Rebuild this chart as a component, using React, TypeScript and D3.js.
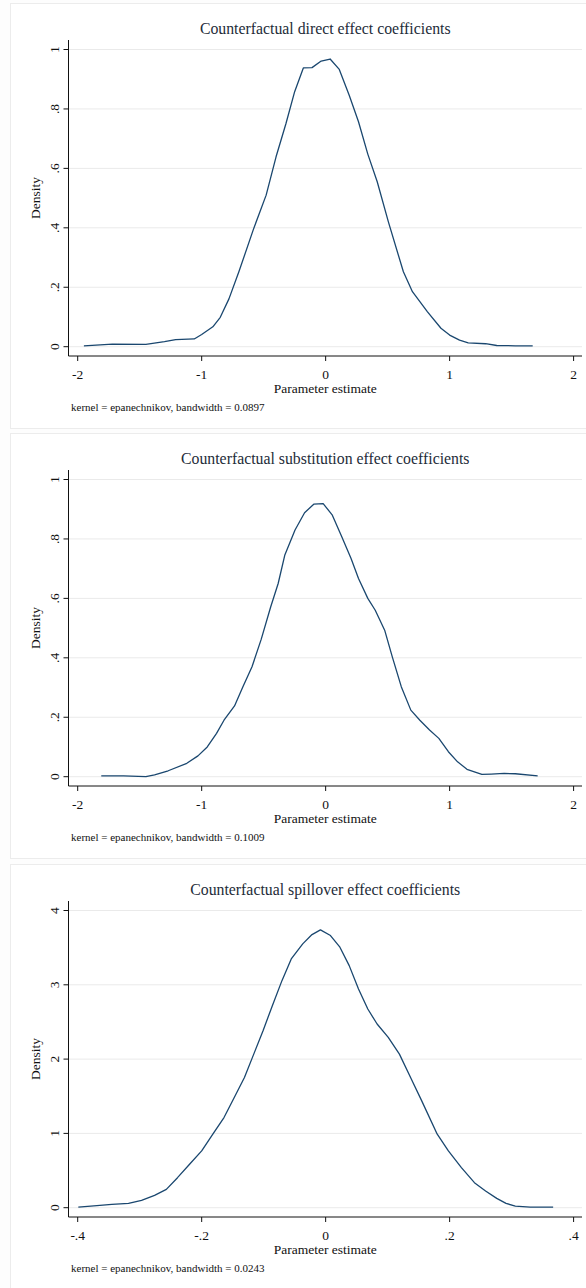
import React from "react";
import * as d3 from "d3";

// Kernel density estimates (x = parameter estimate, y = density)
const directDensity: [number, number][] = [
  [-1.95, 0.003], [-1.72, 0.009], [-1.45, 0.008], [-1.3, 0.017], [-1.21, 0.024],
  [-1.06, 0.026], [-1.0, 0.041], [-0.91, 0.067], [-0.85, 0.099], [-0.78, 0.161],
  [-0.7, 0.252], [-0.58, 0.398], [-0.48, 0.51], [-0.4, 0.639], [-0.32, 0.751],
  [-0.25, 0.858], [-0.18, 0.938], [-0.11, 0.939], [-0.036, 0.961], [0.036, 0.968],
  [0.11, 0.933], [0.19, 0.846], [0.265, 0.757], [0.34, 0.648], [0.416, 0.555],
  [0.506, 0.42], [0.627, 0.252], [0.7, 0.185], [0.82, 0.118], [0.93, 0.062],
  [1.0, 0.039], [1.08, 0.022], [1.15, 0.013], [1.29, 0.01], [1.38, 0.004],
  [1.53, 0.003], [1.67, 0.003],
];

const substitutionDensity: [number, number][] = [
  [-1.81, 0.003], [-1.63, 0.003], [-1.45, 0.0], [-1.38, 0.006], [-1.27, 0.02],
  [-1.12, 0.045], [-1.03, 0.07], [-0.955, 0.1], [-0.88, 0.146], [-0.82, 0.19],
  [-0.735, 0.238], [-0.67, 0.3], [-0.594, 0.37], [-0.52, 0.462], [-0.443, 0.572],
  [-0.383, 0.65], [-0.33, 0.745], [-0.247, 0.83], [-0.17, 0.888], [-0.096, 0.917],
  [-0.02, 0.919], [0.054, 0.88], [0.13, 0.807], [0.205, 0.734], [0.265, 0.667],
  [0.34, 0.6], [0.4, 0.56], [0.476, 0.493], [0.537, 0.404], [0.61, 0.303],
  [0.687, 0.224], [0.76, 0.19], [0.838, 0.157], [0.913, 0.129], [0.99, 0.084],
  [1.064, 0.05], [1.14, 0.025], [1.26, 0.008], [1.335, 0.009], [1.44, 0.011],
  [1.53, 0.01], [1.71, 0.003],
];

const spilloverDensity: [number, number][] = [
  [-0.399, 0.009], [-0.369, 0.027], [-0.345, 0.045], [-0.318, 0.058], [-0.297, 0.099],
  [-0.276, 0.166], [-0.257, 0.247], [-0.239, 0.404], [-0.221, 0.571], [-0.2, 0.764],
  [-0.182, 0.989], [-0.164, 1.213], [-0.146, 1.506], [-0.131, 1.753], [-0.116, 2.067],
  [-0.101, 2.382], [-0.086, 2.719], [-0.0705, 3.056], [-0.0555, 3.348], [-0.037, 3.551],
  [-0.022, 3.676], [-0.0084, 3.739], [0.0078, 3.663], [0.023, 3.506], [0.038, 3.258],
  [0.053, 2.944], [0.068, 2.674], [0.083, 2.472], [0.101, 2.292], [0.119, 2.067],
  [0.137, 1.753], [0.155, 1.438], [0.18, 0.989], [0.198, 0.764], [0.219, 0.539],
  [0.24, 0.337], [0.258, 0.225], [0.276, 0.126], [0.291, 0.058], [0.306, 0.022],
  [0.33, 0.009], [0.367, 0.009],
];

const panelTitles = [
  "Counterfactual direct effect coefficients",
  "Counterfactual substitution effect coefficients",
  "Counterfactual spillover effect coefficients",
];
const bandwidths = ["0.0897", "0.1009", "0.0243"];

const wideXTicks = [-2, -1, 0, 1, 2];
const narrowXTicks = [-0.4, -0.2, 0, 0.2, 0.4];
const unitYTicks = [0, 0.2, 0.4, 0.6, 0.8, 1];
const wideYTicks = [0, 1, 2, 3, 4];

// Stata-style labels: drop the leading zero (".8", "-.4")
const stataFmt = (v: number) => {
  if (v === 0) return "0";
  const s = String(+v.toFixed(2));
  return s.replace(/^(-?)0\./, "$1.");
};

const W = 586;
const H = 1288;
const FONT = "'Liberation Serif', 'Times New Roman', 'DejaVu Serif', serif";
const LINE = "#1a476f";
const GRID = "#eaeaea";

type PanelProps = {
  top: number;
  title: string;
  bandwidth: string;
  data: [number, number][];
  xTicks: number[];
  yTicks: number[];
};

function Panel({ top, title, bandwidth, data, xTicks, yTicks }: PanelProps) {
  const axisX = 68.5;
  const axisY = 356;
  const axisTop = 40;
  const plotRight = 582;

  const x = d3
    .scaleLinear()
    .domain([xTicks[0], xTicks[xTicks.length - 1]])
    .range([77.7, 573.6]);
  const y = d3
    .scaleLinear()
    .domain([yTicks[0], yTicks[yTicks.length - 1]])
    .range([346.7, 49.5]);

  const line = d3
    .line<[number, number]>()
    .x((d) => x(d[0]))
    .y((d) => y(d[1]))
    .curve(d3.curveLinear);

  const cx = (axisX + plotRight) / 2;

  return (
    <g transform={`translate(0,${top})`}>
      <rect x={10.5} y={3.5} width={W} height={425} fill="#ffffff" stroke="#ececec" strokeWidth={1} />

      <text x={cx} y={34} textAnchor="middle" fontFamily={FONT} fontSize={15.8} fill="#232b38">
        {title}
      </text>

      {yTicks.map((t) => (
        <line key={`g${t}`} x1={axisX} x2={plotRight} y1={y(t)} y2={y(t)} stroke={GRID} strokeWidth={1} />
      ))}

      <path d={line(data) ?? ""} fill="none" stroke={LINE} strokeWidth={1.3} strokeLinejoin="round" />

      <line x1={axisX} x2={axisX} y1={axisTop} y2={axisY} stroke="#111" strokeWidth={1} />
      <line x1={axisX} x2={plotRight} y1={axisY} y2={axisY} stroke="#111" strokeWidth={1} />

      {yTicks.map((t) => (
        <g key={`y${t}`}>
          <line x1={axisX - 5} x2={axisX} y1={y(t)} y2={y(t)} stroke="#111" strokeWidth={1} />
          <text
            transform={`translate(${54},${y(t)}) rotate(-90)`}
            textAnchor="middle"
            dominantBaseline="central"
            fontFamily={FONT}
            fontSize={13.5}
            fill="#111"
          >
            {stataFmt(t)}
          </text>
        </g>
      ))}

      {xTicks.map((t) => (
        <g key={`x${t}`}>
          <line x1={x(t)} x2={x(t)} y1={axisY} y2={axisY + 5} stroke="#111" strokeWidth={1} />
          <text x={x(t)} y={378.5} textAnchor="middle" fontFamily={FONT} fontSize={13.5} fill="#111">
            {stataFmt(t)}
          </text>
        </g>
      ))}

      <text
        transform={`translate(${35.5},${(axisTop + axisY) / 2}) rotate(-90)`}
        textAnchor="middle"
        dominantBaseline="central"
        fontFamily={FONT}
        fontSize={13.5}
        fill="#111"
      >
        Density
      </text>

      <text x={cx} y={393} textAnchor="middle" fontFamily={FONT} fontSize={13.5} fill="#111">
        Parameter estimate
      </text>

      <text x={71} y={411} fontFamily={FONT} fontSize={11} fill="#111">
        {`kernel = epanechnikov, bandwidth = ${bandwidth}`}
      </text>
    </g>
  );
}

export default function App() {
  return (
    <svg
      width={W}
      height={H}
      viewBox={`0 0 ${W} ${H}`}
      style={{ position: "absolute", left: 0, top: 0, display: "block", background: "#fdfdfd" }}
    >
      <Panel top={0} title={panelTitles[0]} bandwidth={bandwidths[0]} data={directDensity} xTicks={wideXTicks} yTicks={unitYTicks} />
      <Panel top={430} title={panelTitles[1]} bandwidth={bandwidths[1]} data={substitutionDensity} xTicks={wideXTicks} yTicks={unitYTicks} />
      <Panel top={861} title={panelTitles[2]} bandwidth={bandwidths[2]} data={spilloverDensity} xTicks={narrowXTicks} yTicks={wideYTicks} />
    </svg>
  );
}
